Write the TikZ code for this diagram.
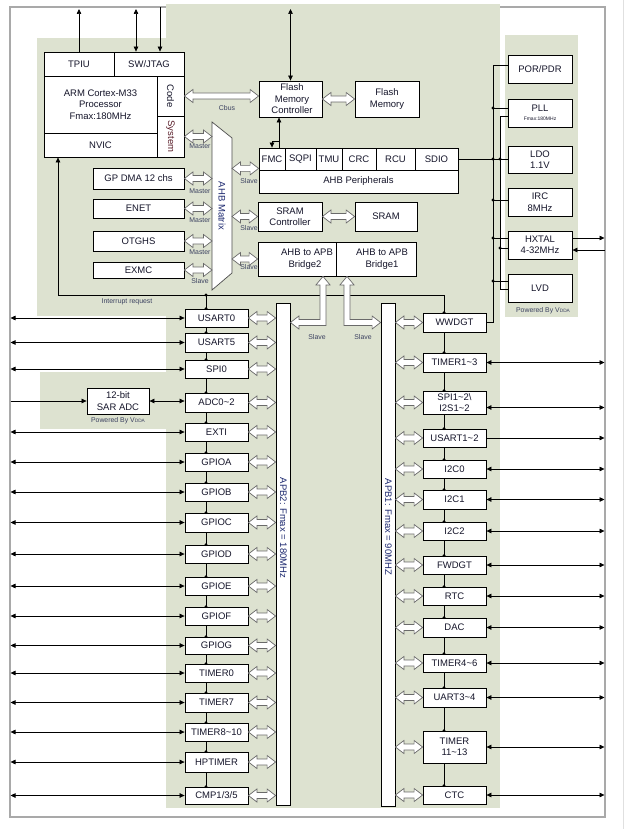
\documentclass[tikz,border=0pt]{standalone}
\usepackage{graphicx}
\usepackage{fontspec}
\setmainfont{Liberation Sans}
\usetikzlibrary{arrows.meta,calc}
\definecolor{bg}{HTML}{DDE2D0}
\definecolor{frameg}{HTML}{A9A9A9}
\definecolor{lbl}{HTML}{3B4160}
\definecolor{navy}{HTML}{1E2A70}
\definecolor{hol}{HTML}{6A6A6A}
\definecolor{sysred}{HTML}{5A1E2A}
\definecolor{boxtxt}{HTML}{15152A}
\tikzset{
  box/.style={draw=black, line width=0.8pt, fill=white, inner sep=0pt, align=center,
    font=\fontsize{9.5}{11.5}\selectfont, text=boxtxt},
  lab/.style={font=\fontsize{6.9}{7.5}\selectfont, text=lbl, inner sep=0pt},
  ln/.style={line width=0.7pt, draw=black},
  atip/.tip={Triangle[length=5pt,width=4.5pt]},
  arr/.style={ln, -atip},
  darr/.style={ln, atip-atip},
  hollow/.style={draw=hol, line width=0.7pt, fill=white, line join=miter},
  rot/.style={rotate=-90, font=\fontsize{9.5}{11}\selectfont, text=navy, inner sep=0pt},
}
\newcommand{\bx}[7][]{\node[box,#1,minimum width={(#5-#3)*1pt},minimum height={(#6-#4)*1pt}] (#2) at ({(#3+#5)/2},{(#4+#6)/2}) {#7};}
\newcommand{\hh}[2]{\path[hollow] let \p1=#1, \p2=#2 in
 (\x1,\y1) -- ({\x1+8.5pt},{\y1+6.5pt}) -- ({\x1+8.5pt},{\y1+3pt}) -- ({\x2-8.5pt},{\y1+3pt}) -- ({\x2-8.5pt},{\y1+6.5pt}) -- (\x2,\y1) -- ({\x2-8.5pt},{\y1-6.5pt}) -- ({\x2-8.5pt},{\y1-3pt}) -- ({\x1+8.5pt},{\y1-3pt}) -- ({\x1+8.5pt},{\y1-6.5pt}) -- cycle;}
\newcommand{\Lar}[3]{\path[hollow] let \p1=#1, \p2=#2 in
 (\x1,\y1) -- ({\x1+#3*7pt},{\y1-8.5pt}) -- ({\x1+#3*3pt},{\y1-8.5pt}) -- ({\x1+#3*3pt},{\y2-3pt}) -- ({\x2+#3*8.5pt},{\y2-3pt}) -- ({\x2+#3*8.5pt},{\y2-6.5pt}) -- (\x2,\y2) -- ({\x2+#3*8.5pt},{\y2+6.5pt}) -- ({\x2+#3*8.5pt},{\y2+3pt}) -- ({\x1-#3*3pt},{\y2+3pt}) -- ({\x1-#3*3pt},{\y1-8.5pt}) -- ({\x1-#3*7pt},{\y1-8.5pt}) -- cycle;}
\begin{document}
\begin{tikzpicture}[x=1pt,y=-1pt]
\useasboundingbox (0,0) rectangle (625,829);
\fill[white] (0,0) rectangle (625,829);
\draw[frameg, line width=1.3pt] (10,7) rectangle (605,817);
\draw[black!12, line width=0.8pt] (623,0) -- (623,829);
\fill[bg] (166,4) rectangle (500,808);
\fill[bg] (37,38) rectangle (166,316);
\fill[bg] (40,372) rectangle (166,429);
\fill[bg] (505,35) rectangle (578,317);

\coordinate (topY) at (0,9);
\coordinate (frT) at (0,7.5);
\coordinate (frL) at (10.5,0);
\coordinate (frR) at (604.5,0);
\coordinate (cl) at (206,0);
\coordinate (cr) at (444,0);
\coordinate (irq) at (58,295);
\coordinate (pa) at (493,0);
\coordinate (pb) at (500,0);
\coordinate (mxL) at (212,0);
\coordinate (mxR) at (232,0);

% CPU block
\bx{tpiu}{44}{52}{114}{76}{TPIU}
\bx{swjtag}{114}{52}{184}{76}{SW/JTAG}
\bx{cpu}{44}{76}{157}{133}{ARM Cortex-M33\\Processor\\Fmax:180MHz}
\bx{code}{157}{76}{184}{116}{\rotatebox{-90}{Code}}
\bx{system}{157}{116}{184}{157}{\rotatebox{-90}{\color{sysred}System}}
\bx{nvic}{44}{133}{157}{157}{NVIC}
\bx{dma}{93}{168}{184}{189}{GP DMA 12 chs}
\bx{enet}{93}{199}{184}{218}{ENET}
\bx{otghs}{93}{231}{184}{251}{OTGHS}
\bx{exmc}{93}{262}{184}{278}{EXMC}

% AHB matrix
\draw[line width=0.7pt, draw=black!70, fill=white] (212,122) -- (232,138) -- (232,273) -- (212,290) -- cycle;
\node[rot] (mxlabel) at (222,206) {AHB Matrix};

% Flash / AHB peripherals / SRAM / bridges
\bx{fmctrl}{259}{81}{322}{117}{\hspace*{3pt}Flash\\\hspace*{3pt}Memory\\\hspace*{3pt}Controller}
\bx{flash}{355}{81}{419}{117}{Flash\\Memory}
\bx{fmc}{259}{148}{285}{170}{FMC}
\bx{sqpi}{285}{148}{316}{170}{SQPI}
\bx{tmu}{316}{148}{342}{170}{TMU}
\bx{crc}{342}{148}{376}{170}{CRC}
\bx{rcu}{376}{148}{415}{170}{RCU}
\bx{sdio}{415}{148}{458}{170}{SDIO}
\bx{ahbp}{259}{170}{458}{193}{AHB Peripherals}
\bx{sramc}{258}{202}{322}{231}{SRAM\\Controller}
\bx{sram}{355}{202}{417}{231}{SRAM}
\bx{br2}{258}{242}{336}{276}{\hspace*{20pt}AHB to APB\\\hspace*{16pt}Bridge2}
\bx{br1}{336}{242}{416}{276}{\hspace*{12pt}AHB to APB\\\hspace*{12pt}Bridge1}

% power domain
\bx{por}{508}{55}{572}{83}{POR/PDR}
\bx{pll}{508}{99}{572}{127}{PLL\\[-2pt]{\fontsize{5}{6}\selectfont Fmax:180MHz}}
\bx{ldo}{508}{146}{572}{173}{LDO\\1.1V}
\bx{irc}{508}{188}{572}{216}{IRC\\8MHz}
\bx{hxtal}{508}{231}{572}{259}{HXTAL\\4-32MHz}
\bx{lvd}{508}{274}{572}{302}{LVD}

% APB buses
\bx{apb2}{276}{303}{290}{805}{}
\bx{apb1}{381}{303}{395}{806}{}
\node[rot] (apb2l) at (283.5,528) {APB2: Fmax = 180MHz};
\node[rot] (apb1l) at (388.5,527) {APB1: Fmax = 90MHZ};

% ADC
\bx{sar}{87}{388}{149}{414}{12-bit\\SAR ADC}

% APB2 peripherals
\bx{usart0}{185}{309}{248}{327}{USART0}
\bx{usart5}{185}{333}{248}{352}{USART5}
\bx{spi0}{185}{360}{248}{378}{SPI0}
\bx{adc}{185}{393}{248}{412}{ADC0\textasciitilde2}
\bx{exti}{185}{423}{248}{441}{EXTI}
\bx{gpioa}{185}{453}{248}{471}{GPIOA}
\bx{gpiob}{185}{483}{248}{501}{GPIOB}
\bx{gpioc}{185}{513}{248}{532}{GPIOC}
\bx{gpiod}{185}{545}{248}{563}{GPIOD}
\bx{gpioe}{185}{577}{248}{595}{GPIOE}
\bx{gpiof}{185}{607}{248}{625}{GPIOF}
\bx{gpiog}{185}{637}{248}{654}{GPIOG}
\bx{timer0}{185}{664}{248}{682}{TIMER0}
\bx{timer7}{185}{693}{248}{712}{TIMER7}
\bx{timer8}{185}{723}{248}{741}{TIMER8\textasciitilde10}
\bx{hptimer}{185}{752}{248}{772}{HPTIMER}
\bx{cmp}{185}{787}{248}{804}{CMP1/3/5}

% APB1 peripherals
\bx{wwdgt}{423}{313}{486}{332}{WWDGT}
\bx{timer13}{423}{353}{486}{372}{TIMER1\textasciitilde3}
\bx[font=\fontsize{9.5}{10.5}\selectfont]{spi12}{423}{391}{486}{414}{SPI1\textasciitilde2\textbackslash\\I2S1\textasciitilde2}
\bx{usart12}{423}{429}{486}{447}{USART1\textasciitilde2}
\bx{i2c0}{423}{460}{486}{478}{I2C0}
\bx{i2c1}{423}{490}{486}{509}{I2C1}
\bx{i2c2}{423}{522}{486}{540}{I2C2}
\bx{fwdgt}{423}{556}{486}{574}{FWDGT}
\bx{rtc}{423}{587}{486}{605}{RTC}
\bx{dac}{423}{618}{486}{637}{DAC}
\bx{timer46}{423}{654}{486}{672}{TIMER4\textasciitilde6}
\bx{uart34}{423}{688}{486}{707}{UART3\textasciitilde4}
\bx{timer1113}{423}{731}{486}{763}{TIMER\\11\textasciitilde13}
\bx{ctc}{423}{786}{486}{804}{CTC}

% top arrows
\draw[arr] (tpiu.north) -- (tpiu.north |- topY);
\coordinate (swA) at ([xshift=-13pt]swjtag.north);
\coordinate (swB) at ([xshift=11pt]swjtag.north);
\draw[darr] (swA) -- (swA |- topY);
\draw[arr] (swB |- frT) -- (swB);
\draw[darr] (fmctrl.north) -- (fmctrl.north |- topY);
\coordinate (fmA) at ([xshift=7pt]fmc.north);
\draw[arr] (fmA) -- (fmA |- fmctrl.south);
\draw[arr] ([yshift=6pt]fmA) -| (fmc.north);

% interrupt request line and chains
\draw[arr] (cr |- wwdgt.north) -- (cr |- irq) -- (irq) -- (irq |- nvic.south);
\draw[ln] (cl |- irq) -- (cl |- usart0.north);
\fill (cl |- irq) circle (1.6pt);
\fill (cl |- usart0.north) circle (1.6pt);
\foreach \a/\b in {usart0/usart5, usart5/spi0, spi0/adc, adc/exti, exti/gpioa, gpioa/gpiob, gpiob/gpioc, gpioc/gpiod, gpiod/gpioe, gpioe/gpiof, gpiof/gpiog, gpiog/timer0, timer0/timer7, timer7/timer8, timer8/hptimer, hptimer/cmp}{
  \draw[ln] (cl |- \a.south) -- (cl |- \b.north);
  \fill (cl |- \b.north) circle (1.6pt);}
\fill (cr |- wwdgt.north) circle (1.6pt);
\foreach \a/\b in {wwdgt/timer13, timer13/spi12, spi12/usart12, usart12/i2c0, i2c0/i2c1, i2c1/i2c2, i2c2/fwdgt, fwdgt/rtc, rtc/dac, dac/timer46, timer46/uart34, uart34/timer1113, timer1113/ctc}{
  \draw[ln] (cr |- \a.south) -- (cr |- \b.north);
  \fill (cr |- \b.north) circle (1.6pt);}

% power lines
\coordinate (porL) at ([yshift=4pt]por.west);
\draw[ln] (porL) -- (pa |- porL) -- (pa |- wwdgt.east) -- (wwdgt.east);
\coordinate (pllA) at ([yshift=5pt]pll.west);
\coordinate (pllB) at ([yshift=-3pt]pll.west);
\coordinate (lvdA) at ([yshift=7pt]lvd.west);
\coordinate (lvdB) at ([yshift=-1pt]lvd.west);
\draw[ln] (pllA) -- (pa |- pllA);
\draw[ln] (pllB) -- (pb |- pllB) -- (pb |- lvdB) -- (lvdB);
\draw[ln] (sdio.east) -- (ldo.west |- sdio.east);
\coordinate (ircA) at ([yshift=2pt]irc.west);
\draw[ln] (ircA) -- (pa |- ircA);
\coordinate (hxA) at ([yshift=7pt]hxtal.west);
\coordinate (hxB) at ([yshift=-3pt]hxtal.west);
\draw[ln] (hxA) -- (pa |- hxA);
\draw[ln] (hxB) -- (pb |- hxB);
\draw[ln] (lvdA) -- (pa |- lvdA);
\foreach \p in {(pa |- pllA), (pa |- sdio.east), (pb |- sdio.east), (pa |- ircA), (pa |- hxA), (pb |- hxB), (pa |- lvdA)}{\fill \p circle (1.6pt);}
\coordinate (hxO) at ([yshift=7pt]hxtal.east);
\coordinate (hxI) at ([yshift=-5pt]hxtal.east);
\draw[arr] (hxO) -- (frR |- hxO);
\draw[arr] (frR |- hxI) -- (hxI);

% hollow arrows
\hh{(system.east)}{(mxL |- system.east)}
\hh{(dma.east)}{(mxL |- dma.east)}
\hh{(enet.east)}{(mxL |- enet.east)}
\hh{(otghs.east)}{(mxL |- otghs.east)}
\hh{(exmc.east)}{(mxL |- exmc.east)}
\coordinate (ahbA) at ([yshift=2pt]fmc.south west);
\hh{(mxR |- ahbA)}{(ahbA)}
\hh{(mxR |- sramc.west)}{(sramc.west)}
\hh{(mxR |- br2.west)}{(br2.west)}
\hh{(code.east)}{(fmctrl.west |- code.east)}
\hh{(fmctrl.east |- flash.west)}{(flash.west)}
\hh{(sramc.east)}{(sram.west)}
\Lar{([xshift=26pt]br2.south)}{(apb2.east |- wwdgt.east)}{(1)}
\Lar{([xshift=-29pt]br1.south)}{(apb1.west |- wwdgt.east)}{(-1)}
\foreach \q in {usart0,usart5,spi0,adc,exti,gpioa,gpiob,gpioc,gpiod,gpioe,gpiof,gpiog,timer0,timer7,timer8,hptimer,cmp}{
  \hh{(\q.east)}{(apb2.west |- \q.east)}}
\foreach \q in {wwdgt,timer13,spi12,usart12,i2c0,i2c1,i2c2,fwdgt,rtc,dac,timer46,uart34,timer1113,ctc}{
  \hh{(apb1.east |- \q.west)}{(\q.west)}}

% external arrows left
\foreach \q in {usart0,usart5,spi0,exti,gpioa,gpiob,gpioc,gpiod,gpioe,gpiof,gpiog,timer0,timer7,timer8,hptimer,cmp}{
  \draw[darr] (\q.west) -- (frL |- \q.west);}
\draw[darr] (sar.east) -- (sar.east -| adc.west);
\draw[arr] (frL |- sar.west) -- (sar.west);

% external arrows right
\foreach \q in {timer13,i2c0,i2c1,i2c2,fwdgt,rtc,dac,timer46,uart34,timer1113,ctc}{
  \draw[darr] (\q.east) -- (frR |- \q.east);}
\coordinate (spiA) at ([yshift=-5pt]spi12.east);
\draw[darr] (spiA) -- (frR |- spiA);
\draw[arr] (usart12.east) -- (frR |- usart12.east);

% small labels
\node[lab] (cbusl) at (227,108) {Cbus};
\node[lab] (m0) at (200,146) {Master};
\node[lab] (m1) at (200,191) {Master};
\node[lab] (m2) at (200,220) {Master};
\node[lab] (m3) at (200,252) {Master};
\node[lab] (s0) at (200,281) {Slave};
\node[lab] (s1) at (249,181) {Slave};
\node[lab] (s2) at (249,228) {Slave};
\node[lab] (s3) at (249,267) {Slave};
\node[lab] (s4) at (317,337) {Slave};
\node[lab] (s5) at (363,337) {Slave};
\node[lab] (irql) at (127,302) {Interrupt request};
\node[lab] (pw1) at (118,421) {Powered By V{\fontsize{4.8}{5}\selectfont DDA}};
\node[lab] (pw2) at (543,311) {Powered By V{\fontsize{4.8}{5}\selectfont DDA}};
\end{tikzpicture}
\end{document}
